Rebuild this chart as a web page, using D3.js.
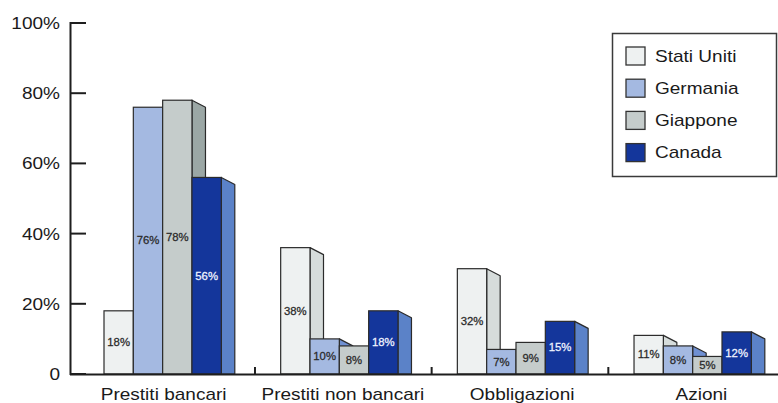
<!DOCTYPE html>
<html>
<head>
<meta charset="utf-8">
<script src="https://cdn.jsdelivr.net/npm/d3@7"></script>
<style>
  html, body { margin: 0; padding: 0; background: #fff; }
  svg { display: block; }
  text { font-family: "Liberation Sans", Arial, Helvetica, sans-serif; }
</style>
</head>
<body>
<svg id="chart" width="778" height="403"></svg>
<script>
const categories = ["Prestiti bancari", "Prestiti non bancari", "Obbligazioni", "Azioni"];
const seriesNames = ["Stati Uniti", "Germania", "Giappone", "Canada"];
const statiUniti = [18, 36, 30, 11];
const germania   = [76, 10, 7, 8];
const giappone   = [78, 8, 9, 5];
const canada     = [56, 18, 15, 12];
const statiUnitiLabels = ["18%", "38%", "32%", "11%"];
const germaniaLabels   = ["76%", "10%", "7%", "8%"];
const giapponeLabels   = ["78%", "8%", "9%", "5%"];
const canadaLabels     = ["56%", "18%", "15%", "12%"];
const yTicks = [0, 20, 40, 60, 80, 100];
const yTickLabels = ["0", "20%", "40%", "60%", "80%", "100%"];

const frontColors = ["#eef1f1", "#a4b9e1", "#c5cccb", "#14369b"];
const sideColors  = ["#d6dcdb", "#6f90d2", "#9ba7a5", "#5b82c8"];
const labelColors = ["#2a2a2a", "#2a2a2a", "#2a2a2a", "#f0f4ff"];

const seriesValues = [statiUniti, germania, giappone, canada];
const seriesLabels = [statiUnitiLabels, germaniaLabels, giapponeLabels, canadaLabels];

const svg = d3.select("#chart");
const SX = 1.12; // horizontal stretch of the reference's type

const y = d3.scaleLinear().domain([0, 100]).range([374, 23]);
const x = d3.scaleBand().domain(categories).range([78.3, 785]).paddingInner(0).paddingOuter(0);
const xs = d3.scaleBand().domain(seriesNames).range([0, 117.3]);
const xLabel = d3.scaleBand().domain(categories).range([74, 791]);
const groupOffset = 25.7;
const depthX = 13.5, depthY = 7;
const base = y(0);

// bars
const data = [];
categories.forEach((c, ci) => {
  seriesNames.forEach((s, si) => {
    data.push({ c, s, si, v: seriesValues[si][ci], label: seriesLabels[si][ci] });
  });
});

const g = svg.append("g");
data.forEach(d => {
  const x0 = x(d.c) + groupOffset + xs(d.s);
  const w = xs.bandwidth();
  const top = y(d.v);
  const x1 = x0 + w;
  // side face
  g.append("path")
    .attr("d", `M${x1},${top} L${x1 + depthX},${top + depthY} L${x1 + depthX},${base} L${x1},${base} Z`)
    .attr("fill", sideColors[d.si])
    .attr("stroke", "#2b2b2b")
    .attr("stroke-width", 1.2)
    .attr("stroke-linejoin", "round");
  // front face
  g.append("rect")
    .attr("x", x0).attr("y", top)
    .attr("width", w).attr("height", base - top)
    .attr("fill", frontColors[d.si])
    .attr("stroke", "#2b2b2b")
    .attr("stroke-width", 1.2);
});
// value labels
data.forEach(d => {
  const cx = x(d.c) + groupOffset + xs(d.s) + xs.bandwidth() / 2;
  const cy = (y(d.v) + base) / 2;
  g.append("text")
    .attr("transform", `translate(${cx},${cy + 3.8}) scale(1.08,1)`)
    .attr("text-anchor", "middle")
    .attr("font-size", "10.5px")
    .attr("fill", labelColors[d.si])
    .attr("stroke", labelColors[d.si])
    .attr("stroke-width", 0.25)
    .text(d.label);
});

// y axis
const axisColor = "#1e1e1e";
svg.append("line")
  .attr("x1", 70.5).attr("x2", 70.5)
  .attr("y1", y(100) - 1).attr("y2", base + 1)
  .attr("stroke", axisColor).attr("stroke-width", 2);
yTicks.forEach((t, i) => {
  svg.append("line")
    .attr("x1", 70.5).attr("x2", 86)
    .attr("y1", y(t)).attr("y2", y(t))
    .attr("stroke", axisColor).attr("stroke-width", 2);
  svg.append("text")
    .attr("transform", `translate(60,${y(t) + 6}) scale(${SX},1)`)
    .attr("text-anchor", "end")
    .attr("font-size", "17px")
    .attr("fill", "#1a1a1a")
    .text(yTickLabels[i]);
});

// x axis
svg.append("line")
  .attr("x1", 70).attr("x2", 778)
  .attr("y1", base + 0.5).attr("y2", base + 0.5)
  .attr("stroke", axisColor).attr("stroke-width", 2);
categories.slice(1).forEach(c => {
  svg.append("line")
    .attr("x1", x(c)).attr("x2", x(c))
    .attr("y1", base - 7).attr("y2", base)
    .attr("stroke", axisColor).attr("stroke-width", 2);
});
categories.forEach(c => {
  svg.append("text")
    .attr("transform", `translate(${xLabel(c) + xLabel.bandwidth() / 2},${400}) scale(${SX},1)`)
    .attr("text-anchor", "middle")
    .attr("font-size", "17px")
    .attr("fill", "#1a1a1a")
    .text(c);
});

// legend
const lg = svg.append("g");
lg.append("rect")
  .attr("x", 612.5).attr("y", 33.5)
  .attr("width", 164).attr("height", 143)
  .attr("fill", "#fff")
  .attr("stroke", "#3a3a3a").attr("stroke-width", 1.5);
seriesNames.forEach((s, i) => {
  const top = 47 + i * 32.2;
  lg.append("rect")
    .attr("x", 626).attr("y", top)
    .attr("width", 19).attr("height", 18)
    .attr("fill", frontColors[i])
    .attr("stroke", "#333").attr("stroke-width", 1.3);
  lg.append("text")
    .attr("transform", `translate(655,${top + 14.5}) scale(${SX},1)`)
    .attr("font-size", "17px")
    .attr("fill", "#1a1a1a")
    .text(s);
});
</script>
</body>
</html>
